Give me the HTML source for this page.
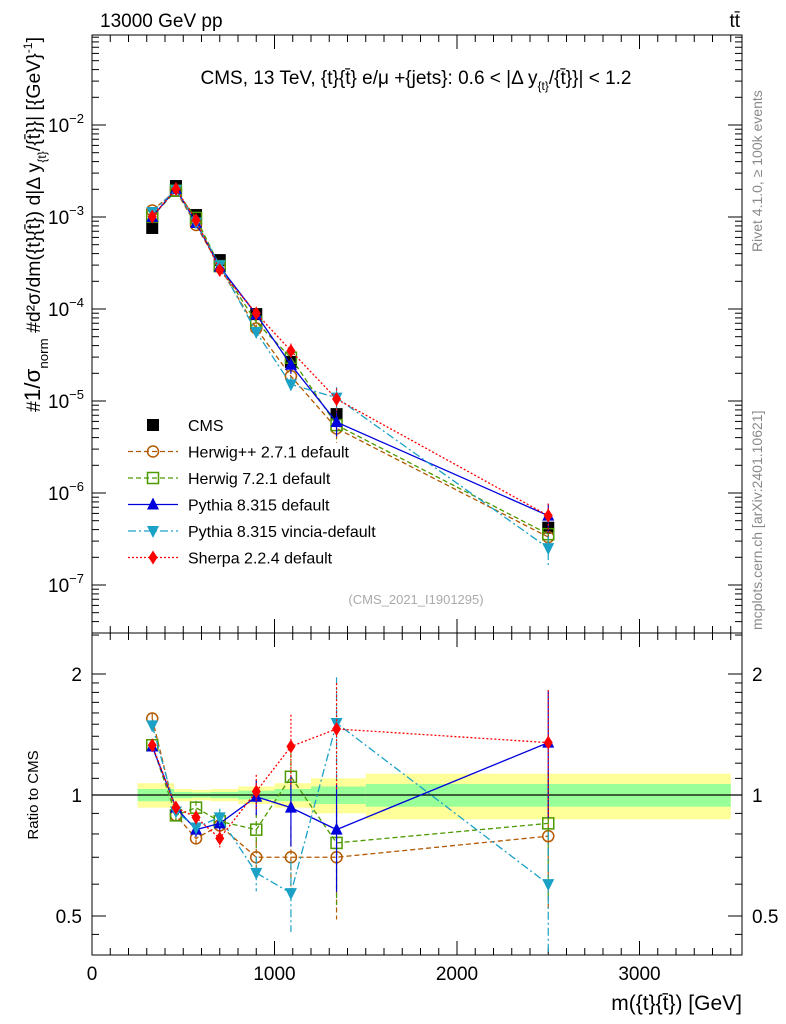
<!DOCTYPE html>
<html><head><meta charset="utf-8"><style>
html,body{margin:0;padding:0;background:#fff;}
svg{display:block;font-family:"Liberation Sans",sans-serif;}
</style></head><body>
<svg id="chart" width="786" height="1024" xmlns="http://www.w3.org/2000/svg">
<g id="g"></g>
</svg>
<script>
const xCenters=[330,460,570,700,900,1090,1340,2500];
const binEdges=[250,450,550,650,800,1000,1200,1500,3500];
const cms=[7.6e-4,2.17e-3,1.05e-3,3.4e-4,8.8e-5,2.66e-5,7.2e-6,4.2e-7];
const cmsErr=[0.08,0.04,0.04,0.05,0.07,0.1,0.15,0.3];
const yellowBand=[0.07,0.035,0.03,0.035,0.05,0.07,0.10,0.13];
const greenBand=[0.035,0.018,0.015,0.018,0.025,0.035,0.05,0.065];
const herwigppRatio=[1.55,0.89,0.78,0.84,0.70,0.70,0.70,0.79];
const herwig7Ratio=[1.33,0.89,0.93,0.86,0.82,1.11,0.76,0.85];
const pythiaRatio=[1.32,0.93,0.82,0.85,0.99,0.93,0.82,1.35];
const vinciaRatio=[1.49,0.91,0.83,0.88,0.64,0.57,1.51,0.60];
const sherpaRatio=[1.33,0.93,0.88,0.78,1.02,1.32,1.46,1.35];
const mcErr=[0.03,0.03,0.04,0.05,0.1,0.2,0.3,0.35];
const xTicks=[0,1000,2000,3000];
const yExps=[-7,-6,-5,-4,-3,-2];
const ratioTicks=[0.5,1,2];

const NS="http://www.w3.org/2000/svg";
const g=document.getElementById('g');
function el(tag,attrs,parent){const e=document.createElementNS(NS,tag);for(const k in attrs)e.setAttribute(k,attrs[k]);(parent||g).appendChild(e);return e;}
const L=92,R=742,T=35,MB=633,RB=955;
const xs=v=>L+v*0.1825;
const ys=v=>217-(Math.log10(v)+3)*92;
const rs=v=>795-Math.log2(v)*121;

for(let i=0;i<xCenters.length;i++){
 const x0=xs(binEdges[i]),x1=xs(binEdges[i+1]);
 let r=el('rect',{x:x0,y:rs(1+yellowBand[i]),width:x1-x0,height:rs(1-yellowBand[i])-rs(1+yellowBand[i]),fill:'#ffff99'});
 
 r=el('rect',{x:x0,y:rs(1+greenBand[i]),width:x1-x0,height:rs(1-greenBand[i])-rs(1+greenBand[i]),fill:'#99ff99'});
 
}
el('line',{x1:L,x2:R,y1:rs(1),y2:rs(1),stroke:'#000','stroke-width':1.2});

el('rect',{x:L,y:T,width:R-L,height:MB-T,fill:'none',stroke:'#000'});
el('rect',{x:L,y:MB,width:R-L,height:RB-MB,fill:'none',stroke:'#000'});

yExps.forEach(e=>{
 const y=ys(Math.pow(10,e));
 [L,R].forEach((x,j)=>{const d=j?-1:1;el('line',{x1:x,x2:x+d*14,y1:y,y2:y,stroke:'#000'});});
 for(let m=2;m<10;m++){const yy=ys(m*Math.pow(10,e));if(yy<T)continue;[L,R].forEach((x,j)=>{const d=j?-1:1;el('line',{x1:x,x2:x+d*7,y1:yy,y2:yy,stroke:'#000'});});}
 const t=el('text',{x:L-8,y:y+7,'text-anchor':'end','font-size':19});t.textContent='10';
 
 const s=el('tspan',{dy:-9,'font-size':13},t);s.textContent='−'+(-e);
});
for(let m=2;m<10;m++){const yy=ys(m*1e-8);if(yy<MB){[L,R].forEach((x,j)=>{const d=j?-1:1;el('line',{x1:x,x2:x+d*7,y1:yy,y2:yy,stroke:'#000'});});}}
ratioTicks.forEach(v=>{const y=rs(v);
 [L,R].forEach((x,j)=>{const d=j?-1:1;el('line',{x1:x,x2:x+d*14,y1:y,y2:y,stroke:'#000'});});
 let t=el('text',{x:L-10,y:y+7,'text-anchor':'end','font-size':19});t.textContent=String(v);
 
 t=el('text',{x:R+10,y:y+7,'font-size':19});t.textContent=String(v);
 
});
[0.6,0.7,0.8,0.9,1.1,1.2,1.3,1.4,1.5,1.6,1.7,1.8,1.9,0.45,2.5].forEach(v=>{const y=rs(v);if(y>MB&&y<RB)[L,R].forEach((x,j)=>{const d=j?-1:1;el('line',{x1:x,x2:x+d*7,y1:y,y2:y,stroke:'#000'});});});
for(let v=0;v<=3500;v+=100){const x=xs(v);const big=v%1000===0;const len=big?14:7;
 [T,MB].forEach(y=>el('line',{x1:x,x2:x,y1:y,y2:y+len,stroke:'#000'}));
 [MB,RB].forEach(y=>el('line',{x1:x,x2:x,y1:y,y2:y-len,stroke:'#000'}));}
xTicks.forEach(v=>{const t=el('text',{x:xs(v),y:980,'text-anchor':'middle','font-size':19});t.textContent=String(v);
 });

const series=[
 {name:'herwigpp',r:herwigppRatio,c:'#b35900',dash:'5,3',m:'circle',label:'Herwig++ 2.7.1 default'},
 {name:'herwig7',r:herwig7Ratio,c:'#4c9900',dash:'5,3',m:'square',label:'Herwig 7.2.1 default'},
 {name:'pythia',r:pythiaRatio,c:'#0000dd',dash:'',m:'tri',label:'Pythia 8.315 default'},
 {name:'vincia',r:vinciaRatio,c:'#1ba1c6',dash:'8,3,2,3',m:'tridown',label:'Pythia 8.315 vincia-default'},
 {name:'sherpa',r:sherpaRatio,c:'#ff0000',dash:'2,2',m:'diamond',label:'Sherpa 2.2.4 default'}];
function marker(type,x,y,c,parent){
 if(type==='circle')return el('circle',{cx:x,cy:y,r:5.5,fill:'none',stroke:c,'stroke-width':1.5},parent);
 if(type==='square')return el('rect',{x:x-5.5,y:y-5.5,width:11,height:11,fill:'none',stroke:c,'stroke-width':1.5},parent);
 if(type==='tri')return el('polygon',{points:`${x},${y-7} ${x-6},${y+5} ${x+6},${y+5}`,fill:c},parent);
 if(type==='tridown')return el('polygon',{points:`${x},${y+7} ${x-6},${y-5} ${x+6},${y-5}`,fill:c},parent);
 if(type==='diamond')return el('polygon',{points:`${x},${y-7} ${x-4.5},${y} ${x},${y+7} ${x+4.5},${y}`,fill:c},parent);
 return el('rect',{x:x-6,y:y-6,width:12,height:12,fill:c},parent);
}
xCenters.forEach((xv,i)=>{const x=xs(xv);
 el('line',{x1:x,x2:x,y1:ys(cms[i]*(1+cmsErr[i])),y2:ys(cms[i]*(1-cmsErr[i])),stroke:'#000'});
 const m=marker('sq',x,ys(cms[i]),'#000');});
series.forEach(s=>{
 const mainPts=xCenters.map((xv,i)=>[xs(xv),ys(cms[i]*s.r[i])]);
 const ratPts=xCenters.map((xv,i)=>[xs(xv),rs(s.r[i])]);
 [mainPts,ratPts].forEach((pts,k)=>{
  const pl=el('polyline',{points:pts.map(p=>p.join(',')).join(' '),fill:'none',stroke:s.c,'stroke-width':1.3,'stroke-dasharray':s.dash});
  
  pts.forEach((p,i)=>{
   const e=mcErr[i];
   let y1,y2;
   if(k){y1=Math.max(MB,rs(s.r[i]*(1+e)));y2=Math.min(RB,rs(Math.max(0.01,s.r[i]*(1-e))));}
   else{y1=ys(cms[i]*s.r[i]*(1+e));y2=ys(cms[i]*s.r[i]*Math.max(0.05,1-e));}
   el('line',{x1:p[0],x2:p[0],y1:y1,y2:y2,stroke:s.c,'stroke-width':1.2,'stroke-dasharray':s.dash});
   const m=marker(s.m,p[0],p[1],s.c);
   
  });
 });
});

const ly0=425,ldy=26.5;
let e=marker('sq',153,ly0,'#000');
let t=el('text',{x:188,y:ly0+6,'font-size':16});t.textContent='CMS';
series.forEach((s,i)=>{const y=ly0+(i+1)*ldy;
 el('line',{x1:128,x2:178,y1:y,y2:y,stroke:s.c,'stroke-width':1.3,'stroke-dasharray':s.dash});
 marker(s.m,153,y,s.c);
 const tt=el('text',{x:188,y:y+6,'font-size':16});tt.textContent=s.label;
 });
</script>
<svg style="position:absolute;left:0;top:0" width="786" height="1024" xmlns="http://www.w3.org/2000/svg" font-family="Liberation Sans, sans-serif">
<text x="100" y="27" font-size="19">13000 GeV pp</text>
<text x="740" y="27" font-size="19" text-anchor="end">tt̄</text>
<text x="416" y="84" font-size="19" text-anchor="middle">CMS, 13 TeV, {t}{t̄} e/μ +{jets}: 0.6 &lt; |Δ y<tspan font-size="12" dy="6">{t}</tspan><tspan dy="-6">/{t̄}}| &lt; 1.2</tspan></text>
<text x="416" y="604" font-size="13" fill="#aaa" text-anchor="middle">(CMS_2021_I1901295)</text>
<text transform="translate(40,412) rotate(-90)" font-size="19" textLength="375" lengthAdjust="spacingAndGlyphs">#<tspan font-size="22">1/σ</tspan><tspan font-size="13" dy="8">norm</tspan><tspan dy="-8"> #d²σ/dm({t}{t̄}) d|Δ y</tspan><tspan font-size="12" dy="6">{t}</tspan><tspan dy="-6">/{t̄}}| [{GeV}</tspan><tspan font-size="12" dy="-8">-1</tspan><tspan dy="8">]</tspan></text>
<text transform="translate(38,795) rotate(-90)" font-size="15" text-anchor="middle">Ratio to CMS</text>
<text x="742" y="1010" font-size="21" text-anchor="end">m({t}{t̄}) [GeV]</text>
<text transform="translate(762,252) rotate(-90)" font-size="14" fill="#888">Rivet 4.1.0, ≥ 100k events</text>
<text transform="translate(762,630) rotate(-90)" font-size="14" fill="#888">mcplots.cern.ch [arXiv:2401.10621]</text>
</svg>
</body></html>
